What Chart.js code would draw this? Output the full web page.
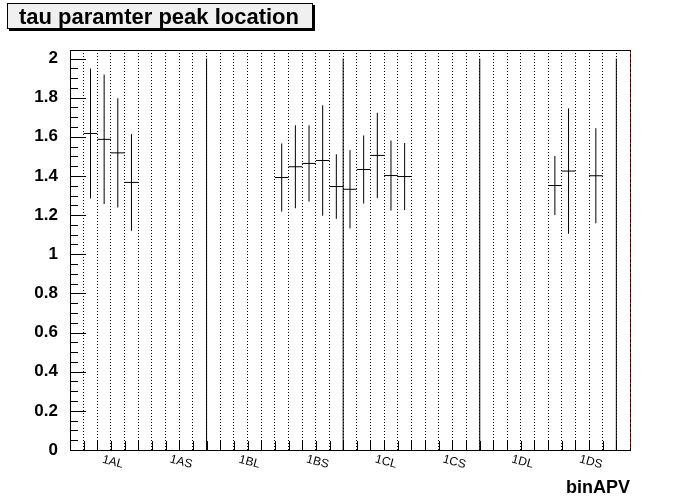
<!DOCTYPE html>
<html>
<head>
<meta charset="utf-8">
<script src="https://cdn.jsdelivr.net/npm/chart.js@4.4.1/dist/chart.umd.min.js"></script>
<style>
  body { margin: 0; background: #fff; }
  #wrap { width: 700px; height: 500px; }
</style>
</head>
<body>
<div id="wrap"><canvas id="jsPeakCanvas" width="700" height="500"></canvas></div>
<script>
// bins along binAPV (41 bins, labels every 5th bin)
const binLabels = [
  "", "", "", "1AL", "", "", "", "", "1AS", "",
  "", "", "", "1BL", "", "", "", "", "1BS", "",
  "", "", "", "1CL", "", "", "", "", "1CS", "",
  "", "", "", "1DL", "", "", "", "", "1DS", "",
  ""
];

// filled bins: index, peak value, error
const binIndex = [1, 2, 3, 4, 15, 16, 17, 18, 19, 20, 21, 22, 23, 24, 35, 36, 38];
const peakValues = [1.617, 1.587, 1.518, 1.367, 1.392, 1.447, 1.464, 1.479, 1.346,
  1.332, 1.433, 1.505, 1.402, 1.397, 1.351, 1.425, 1.401];
const peakErrors = [0.332, 0.331, 0.279, 0.247, 0.174, 0.212, 0.195, 0.282, 0.165,
  0.200, 0.174, 0.218, 0.179, 0.171, 0.151, 0.320, 0.243];

// solid separators between groups
const separatorEdges = [10, 20, 30, 40];
const separatorTop = 2;

const yMin = 0;
const yMax = 2.0435;
const FONT = "'Liberation Sans', Helvetica, Arial, sans-serif";

// horizontal marker across the bin width
const markerPoints = binIndex.flatMap((b, i) => [
  { x: b, y: peakValues[i] },
  { x: b + 1, y: peakValues[i] },
  { x: b + 1, y: null },
]);

// vertical error bar at the bin centre
const errorPoints = binIndex.flatMap((b, i) => [
  { x: b + 0.5, y: peakValues[i] - peakErrors[i] },
  { x: b + 0.5, y: peakValues[i] + peakErrors[i] },
  { x: b + 0.5, y: null },
]);

const separatorPoints = separatorEdges.flatMap((e) => [
  { x: e, y: 0 },
  { x: e, y: separatorTop },
  { x: e, y: null },
]);

const lineStyle = {
  borderColor: "#000",
  borderWidth: 1,
  pointRadius: 0,
  tension: 0,
  spanGaps: false,
  fill: false,
};

// ROOT-like frame: inner ticks, top/right border, title box, bin labels
const rootFrame = {
  id: "rootFrame",
  beforeDraw(chart) {
    const { ctx } = chart;
    ctx.save();
    ctx.fillStyle = "#fff";
    ctx.fillRect(0, 0, chart.width, chart.height);
    ctx.restore();
  },
  afterDraw(chart) {
    const { ctx, chartArea: a } = chart;
    const xs = chart.scales.x;
    const ys = chart.scales.y;
    ctx.save();
    ctx.strokeStyle = "#000";
    ctx.lineWidth = 1;

    // x ticks, pointing up into the frame
    ctx.beginPath();
    xs.ticks.forEach((t) => {
      const px = Math.round(xs.getPixelForValue(t.value)) + 0.5;
      ctx.moveTo(px, a.bottom);
      ctx.lineTo(px, a.bottom - 9);
    });
    // y ticks, major every 0.2, minor every 0.05
    ys.ticks.forEach((t) => {
      const py = Math.round(ys.getPixelForValue(t.value)) + 0.5;
      const major = Math.round(t.value * 100) % 20 === 0;
      ctx.moveTo(a.left, py);
      ctx.lineTo(a.left + (major ? 16 : 8), py);
    });
    ctx.stroke();

    // frame
    ctx.strokeRect(a.left + 0.5, a.top + 0.5, a.right - a.left, a.bottom - a.top);
    ctx.strokeStyle = "#e00000";
    ctx.setLineDash([2, 3]);
    ctx.beginPath();
    ctx.moveTo(a.right + 0.5, a.top + 2);
    ctx.lineTo(a.right + 0.5, a.bottom - 2);
    ctx.stroke();
    ctx.setLineDash([]);

    // bin labels, tilted like the original
    ctx.fillStyle = "#000";
    ctx.font = "12px " + FONT;
    ctx.textAlign = "center";
    ctx.textBaseline = "middle";
    binLabels.forEach((lab, i) => {
      if (!lab) return;
      const px = xs.getPixelForValue(i + 0.5) - 5;
      ctx.save();
      ctx.translate(px, a.bottom + 12);
      ctx.rotate((15 * Math.PI) / 180);
      ctx.fillText(lab, 0, 0);
      ctx.restore();
    });

    // title box with shadow
    ctx.fillStyle = "#000";
    ctx.fillRect(9, 5, 306, 26);
    ctx.fillStyle = "#f0f0f0";
    ctx.fillRect(7, 3, 306, 26);
    ctx.strokeStyle = "#000";
    ctx.strokeRect(7.5, 3.5, 305, 25);
    ctx.fillStyle = "#000";
    ctx.font = "bold 22px " + FONT;
    ctx.textAlign = "left";
    ctx.textBaseline = "alphabetic";
    ctx.fillText("tau paramter peak location", 19, 24);
    ctx.restore();
  },
};

const peakCanvas = document.getElementById("jsPeakCanvas").getContext("2d");

new Chart(peakCanvas, {
  type: "line",
  data: {
    datasets: [
      { label: "marker", data: markerPoints, ...lineStyle },
      { label: "error", data: errorPoints, ...lineStyle },
      { label: "separator", data: separatorPoints, ...lineStyle },
    ],
  },
  options: {
    responsive: false,
    animation: false,
    layout: { padding: { top: 50, right: 70, left: 0, bottom: 0 } },
    plugins: {
      legend: { display: false },
      tooltip: { enabled: false },
    },
    scales: {
      x: {
        type: "linear",
        min: 0,
        max: binLabels.length,
        afterFit: (scale) => { scale.height = 50; },
        ticks: { stepSize: 1, display: false, autoSkip: false },
        grid: { color: "#000", lineWidth: 1, drawTicks: false },
        border: { display: true, color: "#000", width: 1, dash: [1, 2] },
        title: {
          display: true,
          text: "binAPV",
          align: "end",
          color: "#000",
          font: { family: FONT, size: 18, weight: "bold" },
          padding: { top: 0, bottom: 1 },
        },
      },
      y: {
        type: "linear",
        min: yMin,
        max: yMax,
        afterFit: (scale) => { scale.width = 70; },
        ticks: {
          stepSize: 0.05,
          includeBounds: false,
          autoSkip: false,
          padding: 4,
          color: "#000",
          font: { family: FONT, size: 17, weight: "bold" },
          callback: (v) => (Math.round(v * 100) % 20 === 0 ? String(Number(v.toFixed(1))) : ""),
        },
        grid: { display: false },
        border: { display: true, color: "#000", width: 1 },
      },
    },
  },
  plugins: [rootFrame],
});
</script>
</body>
</html>
